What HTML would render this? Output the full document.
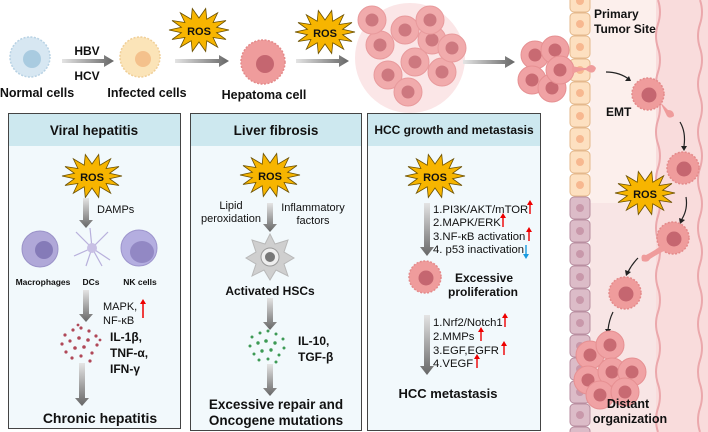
<!DOCTYPE html>
<html><head><meta charset="utf-8"><style>
html,body{margin:0;padding:0;background:#fff}
svg{display:block}
text{font-family:"Liberation Sans",Arial,sans-serif;fill:#111}
.b{font-weight:bold}
</style></head><body>
<svg width="708" height="432" viewBox="0 0 708 432" xmlns="http://www.w3.org/2000/svg">
<defs>
<linearGradient id="ga" x1="0" y1="0" x2="1" y2="0"><stop offset="0" stop-color="#e4e4e4"/><stop offset="1" stop-color="#666"/></linearGradient>
<linearGradient id="gv" x1="0" y1="0" x2="0" y2="1"><stop offset="0" stop-color="#e4e4e4"/><stop offset="1" stop-color="#666"/></linearGradient>
<polygon id="star" points="30,0 17.6,2.7 27,9.5 14.1,7.5 18.7,17.2 7.8,10.8 6.7,21.5 0,12 -6.7,21.5 -7.8,10.8 -18.7,17.2 -14.1,7.5 -27,9.5 -17.6,2.7 -30,0 -17.6,-2.7 -27,-9.5 -14.1,-7.5 -18.7,-17.2 -7.8,-10.8 -6.7,-21.5 0,-12 6.7,-21.5 7.8,-10.8 18.7,-17.2 14.1,-7.5 27,-9.5 17.6,-2.7" fill="#f7b500" stroke="#6b5000" stroke-width="0.8"/>
<g id="pc"><circle r="16" fill="#ef9c9c" stroke="#e48a8a" stroke-dasharray="2 1.5" stroke-width="1.5"/><circle cx="1" cy="1" r="7.5" fill="#c56670"/></g>
<g id="cl"><circle r="14" fill="#f0a2a4" stroke="#e69092"/><circle r="6.5" fill="#c86a72"/></g>
</defs>

<rect x="590" y="0" width="66" height="432" fill="#fcefec"/>
<rect x="590" y="203" width="66" height="229" fill="#f8e5e5"/>
<rect x="656" y="0" width="52" height="432" fill="#f9dcdc"/>
<path d="M658 0 q4 12 0 24 q-4 12 0 24 q4 12 0 24 q-4 12 0 24 q4 12 0 24 q-4 12 0 24 q4 12 0 24 q-4 12 0 24 q4 12 0 24 q-4 12 0 24 q4 12 0 24 q-4 12 0 24 q4 12 0 24 q-4 12 0 24 q4 12 0 24 q-4 12 0 24 q4 12 0 24 q-4 12 0 24" fill="none" stroke="#eba8ac" stroke-width="2"/>
<path d="M700 0 q4 12 0 24 q-4 12 0 24 q4 12 0 24 q-4 12 0 24 q4 12 0 24 q-4 12 0 24 q4 12 0 24 q-4 12 0 24 q4 12 0 24 q-4 12 0 24 q4 12 0 24 q-4 12 0 24 q4 12 0 24 q-4 12 0 24 q4 12 0 24 q-4 12 0 24 q4 12 0 24 q-4 12 0 24" fill="none" stroke="#eba8ac" stroke-width="2"/>
<g stroke="#e4b88c" fill="#fde0c0">
<rect x="570" y="-10" width="20" height="22" rx="4"/><rect x="570" y="13" width="20" height="22" rx="4"/><rect x="570" y="36" width="20" height="22" rx="4"/><rect x="570" y="59" width="20" height="22" rx="4"/><rect x="570" y="82" width="20" height="22" rx="4"/><rect x="570" y="105" width="20" height="22" rx="4"/><rect x="570" y="128" width="20" height="22" rx="4"/><rect x="570" y="151" width="20" height="22" rx="4"/><rect x="570" y="174" width="20" height="22" rx="4"/>
</g>
<g fill="#f7b890"><circle cx="580" cy="1" r="4"/><circle cx="580" cy="24" r="4"/><circle cx="580" cy="47" r="4"/><circle cx="580" cy="70" r="4"/><circle cx="580" cy="93" r="4"/><circle cx="580" cy="116" r="4"/><circle cx="580" cy="139" r="4"/><circle cx="580" cy="162" r="4"/><circle cx="580" cy="185" r="4"/></g>
<g stroke="#b88ea0" fill="#dcbcc8">
<rect x="570" y="197" width="20" height="22" rx="4"/><rect x="570" y="220" width="20" height="22" rx="4"/><rect x="570" y="243" width="20" height="22" rx="4"/><rect x="570" y="266" width="20" height="22" rx="4"/><rect x="570" y="289" width="20" height="22" rx="4"/><rect x="570" y="312" width="20" height="22" rx="4"/><rect x="570" y="335" width="20" height="22" rx="4"/><rect x="570" y="358" width="20" height="22" rx="4"/><rect x="570" y="381" width="20" height="22" rx="4"/><rect x="570" y="404" width="20" height="22" rx="4"/><rect x="570" y="427" width="20" height="22" rx="4"/>
</g>
<g fill="#c898aa"><circle cx="580" cy="208" r="4"/><circle cx="580" cy="231" r="4"/><circle cx="580" cy="254" r="4"/><circle cx="580" cy="277" r="4"/><circle cx="580" cy="300" r="4"/><circle cx="580" cy="323" r="4"/><circle cx="580" cy="346" r="4"/><circle cx="580" cy="369" r="4"/><circle cx="580" cy="392" r="4"/><circle cx="580" cy="415" r="4"/></g>

<circle cx="30" cy="57" r="20" fill="#d7e7f2" stroke="#b8d2e4" stroke-dasharray="2 1.5" stroke-width="1.5"/><circle cx="32" cy="59" r="9" fill="#a9cbe0"/>
<text x="37" y="97" font-size="12.5" class="b" text-anchor="middle" fill="#222">Normal cells</text>
<polygon points="62,59 104,59 104,55 114,61 104,67 104,63 62,63" fill="url(#ga)"/>
<text x="87" y="55" font-size="12" class="b" text-anchor="middle">HBV</text>
<text x="87" y="80" font-size="12" class="b" text-anchor="middle">HCV</text>
<circle cx="140" cy="57" r="20" fill="#fbe4b8" stroke="#f0cf98" stroke-dasharray="2 1.5" stroke-width="1.5"/><circle cx="143" cy="59" r="8" fill="#f4c18c"/>
<text x="147" y="97" font-size="12.5" class="b" text-anchor="middle" fill="#222">Infected cells</text>
<polygon points="175,59 219,59 219,55 229,61 219,67 219,63 175,63" fill="url(#ga)"/>
<use href="#star" x="199" y="30"/><text x="199" y="35" font-size="11" class="b" text-anchor="middle">ROS</text>
<circle cx="263" cy="62" r="22" fill="#ef9c9c" stroke="#e48a8a" stroke-dasharray="2 1.5" stroke-width="1.5"/><circle cx="265" cy="64" r="9" fill="#c56670"/>
<text x="264" y="99" font-size="12.5" class="b" text-anchor="middle" fill="#222">Hepatoma cell</text>
<polygon points="296,59 339,59 339,55 349,61 339,67 339,63 296,63" fill="url(#ga)"/>
<use href="#star" x="325" y="32"/><text x="325" y="37" font-size="11" class="b" text-anchor="middle">ROS</text>
<g opacity="0.9">
<circle cx="410" cy="58" r="55" fill="#f6d0d2" opacity="0.6"/>
<use href="#cl" x="380" y="45"/><use href="#cl" x="405" y="30"/><use href="#cl" x="432" y="40"/><use href="#cl" x="388" y="75"/><use href="#cl" x="415" y="62"/><use href="#cl" x="442" y="72"/><use href="#cl" x="408" y="92"/><use href="#cl" x="430" y="20"/><use href="#cl" x="372" y="20"/><use href="#cl" x="452" y="48"/>
</g>
<polygon points="463,60 505,60 505,56 515,62 505,68 505,64 463,64" fill="url(#ga)"/>
<use href="#cl" x="535" y="55"/><use href="#cl" x="555" y="50"/><use href="#cl" x="532" y="80"/><use href="#cl" x="552" y="88"/><use href="#cl" x="560" y="70"/>
<path d="M572 66 q8 2 14 2 q6 -6 10 0 q-2 8 -10 2 q-6 0 -14 4z" fill="#ef9c9c"/>
<text x="594" y="18" font-size="12" class="b">Primary</text>
<text x="594" y="33" font-size="12" class="b">Tumor Site</text>
<path d="M606 72 q14 0 24 8" fill="none" stroke="#222" stroke-width="1.2"/><polygon points="631,81 625,81 629,76" fill="#222"/>
<use href="#pc" x="648" y="94"/>
<path d="M660 102 q6 6 8 8 q6 0 6 6 q-6 4 -8 -2z" fill="#ef9c9c"/>
<text x="606" y="116" font-size="12" class="b">EMT</text>
<path d="M680 122 q6 10 4 24" fill="none" stroke="#222" stroke-width="1.2"/><polygon points="681,146 687,146 684,151" fill="#222"/>
<use href="#pc" x="683" y="168"/>
<use href="#star" x="645" y="193"/><text x="645" y="198" font-size="11" class="b" text-anchor="middle">ROS</text>
<path d="M686 197 q2 12 -4 22" fill="none" stroke="#222" stroke-width="1.2"/><polygon points="679,218 685,220 680,224" fill="#222"/>
<use href="#pc" x="673" y="238"/>
<path d="M662 245 q-8 6 -16 10 q-6 -2 -4 6 q6 2 8 -2 q6 -4 14 -8z" fill="#ef9c9c"/>
<path d="M638 258 q-6 6 -10 14" fill="none" stroke="#222" stroke-width="1.2"/><polygon points="625,270 631,272 626,276" fill="#222"/>
<use href="#pc" x="625" y="293"/>
<path d="M613 312 q-4 8 -5 18" fill="none" stroke="#222" stroke-width="1.2"/><polygon points="605,329 611,329 608,334" fill="#222"/>
<use href="#cl" x="590" y="355"/><use href="#cl" x="610" y="345"/><use href="#cl" x="588" y="380"/><use href="#cl" x="612" y="372"/><use href="#cl" x="632" y="372"/><use href="#cl" x="600" y="395"/><use href="#cl" x="625" y="392"/>
<text x="628" y="408" font-size="12.5" class="b" text-anchor="middle">Distant</text>
<text x="630" y="423" font-size="12.5" class="b" text-anchor="middle">organization</text>

<g stroke="#444" stroke-width="1">
<rect x="8.5" y="113.5" width="172" height="315" fill="#f2f9fc"/>
<rect x="190.5" y="113.5" width="171" height="317" fill="#f2f9fc"/>
<rect x="367.5" y="113.5" width="173" height="317" fill="#f2f9fc"/>
</g>
<rect x="9" y="114" width="171" height="32" fill="#cde8ef"/>
<rect x="191" y="114" width="170" height="32" fill="#cde8ef"/>
<rect x="368" y="114" width="172" height="32" fill="#cde8ef"/>
<text x="94" y="135" font-size="13.5" class="b" text-anchor="middle">Viral hepatitis</text>
<text x="276" y="135" font-size="13.5" class="b" text-anchor="middle">Liver fibrosis</text>
<text x="454" y="134" font-size="12" class="b" text-anchor="middle">HCC growth and metastasis</text>

<use href="#star" x="92" y="176"/><text x="92" y="181" font-size="11" class="b" text-anchor="middle">ROS</text>
<polygon points="83,198 89,198 89,220 93,220 86,228 79,220 83,220" fill="url(#gv)"/>
<text x="97" y="213" font-size="11">DAMPs</text>
<circle cx="40" cy="249" r="18" fill="#b0a8d8" stroke="#9a92c8"/><circle cx="44" cy="250" r="9" fill="#857bb8"/>
<g stroke="#b8b0dc" stroke-width="1.2"><line x1="92" y1="248" x2="76" y2="232"/><line x1="92" y1="248" x2="108" y2="232"/><line x1="92" y1="248" x2="74" y2="256"/><line x1="92" y1="248" x2="110" y2="260"/><line x1="92" y1="248" x2="90" y2="228"/><line x1="92" y1="248" x2="86" y2="266"/><line x1="92" y1="248" x2="102" y2="266"/></g>
<circle cx="92" cy="248" r="5" fill="#c8c0e4"/>
<circle cx="139" cy="248" r="18" fill="#b4aee0" stroke="#9c94cc"/><ellipse cx="142" cy="252" rx="12" ry="11" fill="#9288c4"/>
<text x="43" y="285" font-size="8.5" class="b" text-anchor="middle">Macrophages</text>
<text x="91" y="285" font-size="8.5" class="b" text-anchor="middle">DCs</text>
<text x="140" y="285" font-size="8.5" class="b" text-anchor="middle">NK cells</text>
<polygon points="83,290 89,290 89,314 93,314 86,322 79,314 83,314" fill="url(#gv)"/>
<text x="103" y="310" font-size="11">MAPK,</text>
<text x="103" y="324" font-size="11">NF-κB</text>
<line x1="143" y1="318" x2="143" y2="303" stroke="#e00" stroke-width="1.5"/><polygon points="140,304 146,304 143,299" fill="#e00"/>
<g fill="#b04858"><circle cx="65" cy="335" r="1.6"/><circle cx="73" cy="330" r="1.6"/><circle cx="81" cy="328" r="1.6"/><circle cx="89" cy="331" r="1.6"/><circle cx="96" cy="336" r="1.6"/><circle cx="62" cy="344" r="1.6"/><circle cx="70" cy="341" r="1.6"/><circle cx="79" cy="338" r="1.8"/><circle cx="88" cy="340" r="1.8"/><circle cx="97" cy="345" r="1.6"/><circle cx="66" cy="352" r="1.6"/><circle cx="75" cy="348" r="1.8"/><circle cx="84" cy="347" r="1.8"/><circle cx="92" cy="353" r="1.6"/><circle cx="72" cy="358" r="1.6"/><circle cx="81" cy="356" r="1.6"/><circle cx="90" cy="361" r="1.6"/><circle cx="78" cy="325" r="1.4"/><circle cx="100" cy="340" r="1.4"/></g>
<text x="110" y="341" font-size="12" class="b">IL-1β,</text>
<text x="110" y="357" font-size="12" class="b">TNF-α,</text>
<text x="110" y="373" font-size="12" class="b">IFN-γ</text>
<polygon points="79,363 85,363 85,398 89,398 82,406 75,398 79,398" fill="url(#gv)"/>
<text x="100" y="423" font-size="14" class="b" text-anchor="middle">Chronic hepatitis</text>

<use href="#star" x="270" y="175"/><text x="270" y="180" font-size="11" class="b" text-anchor="middle">ROS</text>
<polygon points="267,203 273,203 273,224 277,224 270,232 263,224 267,224" fill="url(#gv)"/>
<text x="231" y="209" font-size="11" text-anchor="middle">Lipid</text>
<text x="231" y="222" font-size="11" text-anchor="middle">peroxidation</text>
<text x="313" y="211" font-size="11" text-anchor="middle">Inflammatory</text>
<text x="313" y="224" font-size="11" text-anchor="middle">factors</text>
<polygon points="270,234 275,244 288,240 284,252 294,258 284,264 288,276 276,270 270,280 264,270 252,276 256,264 246,258 256,252 252,240 265,244" fill="#cfcfcf" stroke="#b8b8b8"/>
<circle cx="270" cy="257" r="9" fill="#eee" stroke="#999"/><circle cx="270" cy="257" r="5" fill="#777"/>
<text x="270" y="295" font-size="12" class="b" text-anchor="middle">Activated HSCs</text>
<polygon points="267,298 273,298 273,322 277,322 270,330 263,322 267,322" fill="url(#gv)"/>
<g fill="#3d9a55"><circle cx="252" cy="337" r="1.5"/><circle cx="260" cy="333" r="1.5"/><circle cx="268" cy="331" r="1.5"/><circle cx="276" cy="334" r="1.5"/><circle cx="283" cy="339" r="1.5"/><circle cx="250" cy="346" r="1.5"/><circle cx="258" cy="343" r="1.7"/><circle cx="266" cy="341" r="1.8"/><circle cx="275" cy="343" r="1.7"/><circle cx="284" cy="348" r="1.5"/><circle cx="254" cy="354" r="1.5"/><circle cx="262" cy="351" r="1.7"/><circle cx="271" cy="350" r="1.7"/><circle cx="279" cy="355" r="1.5"/><circle cx="259" cy="360" r="1.5"/><circle cx="268" cy="359" r="1.5"/><circle cx="276" cy="362" r="1.5"/></g>
<text x="298" y="345" font-size="12" class="b">IL-10,</text>
<text x="298" y="361" font-size="12" class="b">TGF-β</text>
<polygon points="267,364 273,364 273,388 277,388 270,396 263,388 267,388" fill="url(#gv)"/>
<text x="276" y="409" font-size="13.5" class="b" text-anchor="middle">Excessive repair and</text>
<text x="276" y="425" font-size="13.5" class="b" text-anchor="middle">Oncogene mutations</text>

<use href="#star" x="435" y="176"/><text x="435" y="181" font-size="11" class="b" text-anchor="middle">ROS</text>
<polygon points="424,203 430,203 430,247 434,247 427,256 420,247 424,247" fill="url(#gv)"/>
<text x="433" y="213" font-size="11.3">1.PI3K/AKT/mTOR</text>
<text x="433" y="226" font-size="11.3">2.MAPK/ERK</text>
<text x="433" y="240" font-size="11.3">3.NF-κB activation</text>
<text x="433" y="253" font-size="11.3">4. p53 inactivation</text>
<g stroke="#e00" stroke-width="1.4">
<line x1="530" y1="214" x2="530" y2="204"/><line x1="503" y1="227" x2="503" y2="217"/><line x1="529" y1="241" x2="529" y2="231"/>
<line x1="505" y1="327" x2="505" y2="317"/><line x1="481" y1="341" x2="481" y2="331"/><line x1="504" y1="355" x2="504" y2="345"/><line x1="477" y1="368" x2="477" y2="358"/>
</g>
<g fill="#e00"><polygon points="527,205 533,205 530,200"/><polygon points="500,218 506,218 503,213"/><polygon points="526,232 532,232 529,227"/><polygon points="502,318 508,318 505,313"/><polygon points="478,332 484,332 481,327"/><polygon points="501,346 507,346 504,341"/><polygon points="474,359 480,359 477,354"/></g>
<line x1="526" y1="245" x2="526" y2="255" stroke="#1a9be0" stroke-width="1.4"/><polygon points="523,254 529,254 526,259" fill="#1a9be0"/>
<use href="#pc" x="425" y="277"/>
<text x="484" y="282" font-size="12" class="b" text-anchor="middle">Excessive</text>
<text x="483" y="296" font-size="12" class="b" text-anchor="middle">proliferation</text>
<polygon points="424,315 430,315 430,366 434,366 427,375 420,366 424,366" fill="url(#gv)"/>
<text x="433" y="326" font-size="11.3">1.Nrf2/Notch1</text>
<text x="433" y="340" font-size="11.3">2.MMPs</text>
<text x="433" y="354" font-size="11.3">3.EGF,EGFR</text>
<text x="433" y="367" font-size="11.3">4.VEGF</text>
<text x="448" y="398" font-size="13" class="b" text-anchor="middle">HCC metastasis</text>
</svg>
</body></html>
